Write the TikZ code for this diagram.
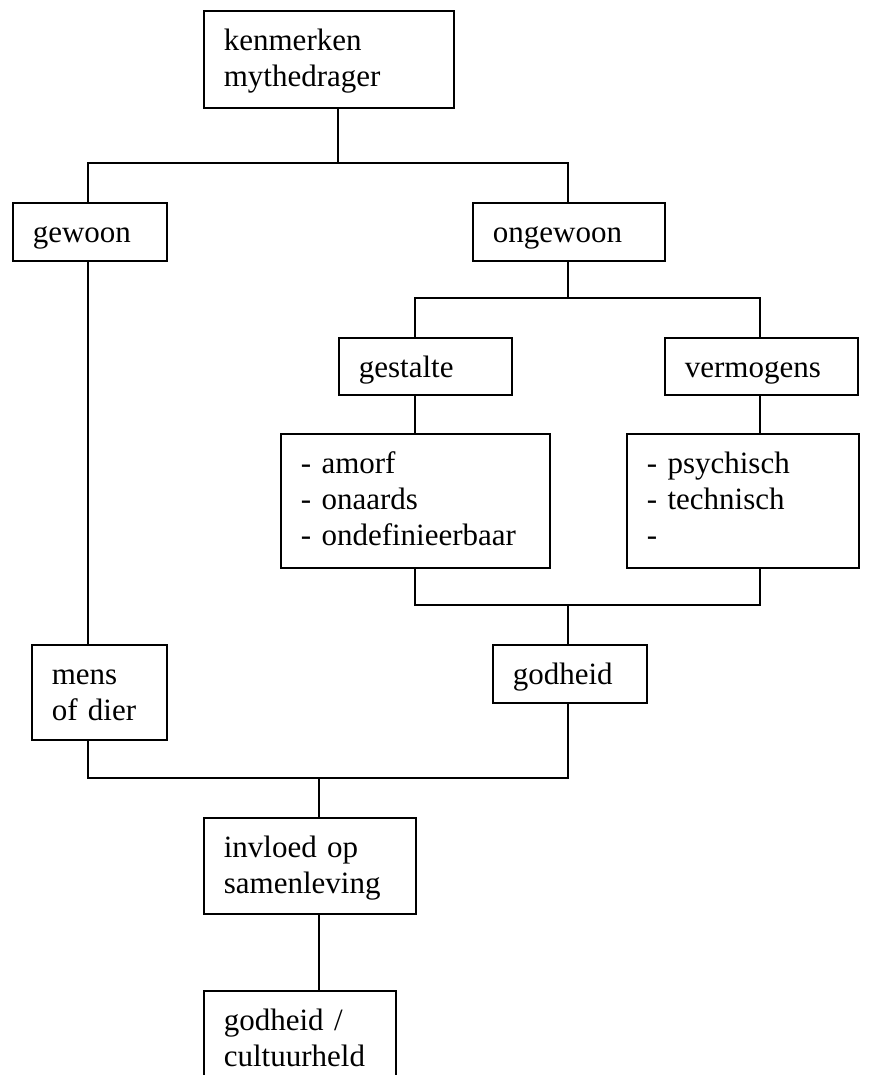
\documentclass[tikz,border=0pt]{standalone}
\usepackage{fontspec}
\setmainfont{Liberation Serif}
\begin{document}
\begin{tikzpicture}[x=1pt,y=-1pt,
  bx/.style={draw, line width=1.7pt, anchor=north west, inner xsep=20pt, inner ysep=0pt,
    text height=40pt, align=left, font=\fontsize{31}{36}\selectfont},
  cn/.style={line width=1.7pt}]
\clip (0,0) rectangle (868,1075);
\fill[white] (0,0) rectangle (868,1075);
% boxes
\node[bx, text width=210pt, text depth=57pt] (K) at (203,10) {kenmerken\\mythedrager};
\node[bx, text width=114pt, text depth=18pt] (gew) at (12,202) {gewoon};
\node[bx, text width=152pt, text depth=18pt] (ong) at (472,202) {ongewoon};
\node[bx, text width=133pt, text depth=17pt] (ges) at (338,337) {gestalte};
\node[bx, text width=153pt, text depth=17pt] (verm) at (664,337) {vermogens};
\node[bx, text width=229pt, text depth=94pt] (am) at (280,433) {- amorf\\- onaards\\- ondefinieerbaar};
\node[bx, text width=192pt, text depth=94pt] (ps) at (626,433) {- psychisch\\- technisch\\-};
\node[bx, text width=95pt, text depth=55pt] (mens) at (31,644) {mens\\of dier};
\node[bx, text width=114pt, text depth=18pt] (god) at (492,644) {godheid};
\node[bx, text width=172pt, text depth=56pt] (inv) at (203,817) {invloed op\\samenleving};
\node[bx, text width=152pt, text depth=60pt] (cult) at (203,990) {godheid /\\cultuurheld};
% junctions
\coordinate (jA) at (338,163);
\coordinate (jB) at (568,298);
\coordinate (jC) at (568,605);
\coordinate (jD) at (319,778);
\coordinate (xG) at (88,0);
\coordinate (xL) at (415,0);
\coordinate (xR) at (760,0);
% connectors
\draw[cn] (K.south -| jA) -- (jA);
\draw[cn] (gew.north -| xG) |- (jA) -| (ong.north -| jB);
\draw[cn] (ong.south -| jB) -- (jB);
\draw[cn] (ges.north -| xL) |- (jB) -| (verm.north -| xR);
\draw[cn] (ges.south -| xL) -- (am.north -| xL);
\draw[cn] (verm.south -| xR) -- (ps.north -| xR);
\draw[cn] (am.south -| xL) |- (jC) -| (ps.south -| xR);
\draw[cn] (jC) -- (god.north -| jC);
\draw[cn] (gew.south -| xG) -- (mens.north -| xG);
\draw[cn] (mens.south -| xG) |- (jD) -| (god.south -| jC);
\draw[cn] (jD) -- (inv.north -| jD);
\draw[cn] (inv.south -| jD) -- (cult.north -| jD);
\end{tikzpicture}
\end{document}
